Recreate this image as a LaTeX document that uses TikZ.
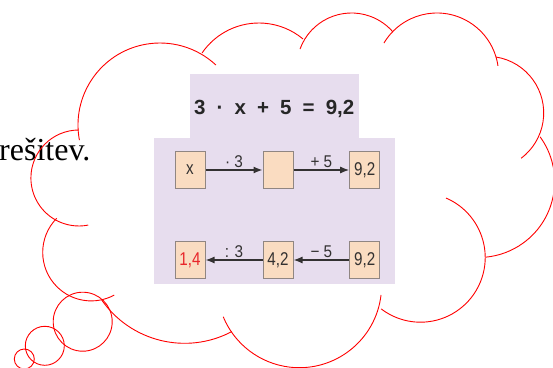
\documentclass[tikz,border=0pt]{standalone}
\usepackage{fontspec}
\setmainfont{Liberation Serif}
\newfontfamily\titlefont[WordSpace=1.95]{Liberation Sans}
\newfontfamily\boxfont[FakeStretch=0.82]{Liberation Sans}
\newfontfamily\labfont[FakeStretch=0.9]{Liberation Sans}
\usetikzlibrary{arrows.meta}

\definecolor{panel}{HTML}{E7DDEE}
\definecolor{boxfill}{HTML}{FADCC1}
\definecolor{boxline}{HTML}{908682}
\definecolor{ink}{HTML}{333131}
\definecolor{solred}{HTML}{E8262A}

\begin{document}
\begin{tikzpicture}[
        x=1pt, y=1pt,
        cloud/.style={
            draw=red,
            line width=0.9pt,
        },
        box/.style={
            rectangle,
            draw=boxline,
            fill=boxfill,
            line width=1pt,
            minimum width=30pt,
            minimum height=36.6pt,
            inner sep=0pt,
            text=ink,
            font=\boxfont\fontsize{18.5}{21}\selectfont,
        },
        op/.style={
            draw=ink,
            line width=1.3pt,
            -{Latex[length=9pt,width=7pt]},
        },
        lab/.style={
            midway,
            above,
            inner sep=1.5pt,
            text=ink,
            font=\labfont\fontsize{17}{19}\selectfont,
        }
    ]
    \useasboundingbox (0,0) rectangle (553,367);

    \node (word) at (-1,206.3) [anchor=base west, inner sep=0pt, font=\fontsize{32}{38}\selectfont] {rešitev.};

    \fill [panel] (190,229) rectangle (359,293);
    \fill [panel] (154,82.7) rectangle (395,229);
    \begin{scope}
        \clip (190,229) rectangle (359,293);
        \node (title) at (194,252) [anchor=base west, inner sep=0pt, text=black!85, font=\titlefont\bfseries\fontsize{20.5}{24}\selectfont] {3 · x + 5 = 9,2\kern5pt:};
    \end{scope}

    \node (x) at (190,197) [box] {x};
    \node (mid) at (278,197) [box] {};
    \node (res) at (364.7,197) [box] {9,2};
    \node (sol) at (190,107) [box, text=solred] {1,4};
    \node (back) at (278,107) [box] {4,2};
    \node (start) at (364.7,107) [box] {9,2};

    \draw [op] (x) -- node [lab] {· 3} (mid);
    \draw [op] (mid) -- node [lab] {+ 5} (res);
    \draw [op] (start) -- node [lab] {− 5} (back);
    \draw [op] (back) -- node [lab] {: 3} (sol);

    % cloud outline
    \draw [cloud] (160,242) ++(190.6:82) arc [start angle=190.6, end angle=47, radius=82];
    \draw [cloud] (258.9,275.1) ++(145.6:68.9) arc [start angle=145.6, end angle=50.2, radius=68.9];
    \draw [cloud] (351.5,299.2) ++(160:54.8) arc [start angle=160, end angle=40.8, radius=54.8];
    \draw [cloud] (436.9,292.3) ++(149.1:61.7) arc [start angle=149.1, end angle=8.2, radius=61.7];
    \draw [cloud] (487,254) ++(80.9:56.7) arc [start angle=80.9, end angle=-52.9, radius=56.7];
    \draw [cloud] (478.6,185.5) ++(35.9:76) arc [start angle=35.9, end angle=-84.4, radius=76];
    \draw [cloud] (420.5,109.5) ++(66.8:64.7) arc [start angle=66.8, end angle=-127.4, radius=64.7];
    \draw [cloud] (299.3,81.6) ++(-6.7:82.3) arc [start angle=-6.7, end angle=-157.6, radius=82.3];
    \draw [cloud] (184.6,124.7) ++(214.8:101) arc [start angle=214.8, end angle=297.8, radius=101];
    \draw [cloud] (91.2,114.6) ++(135.3:48.5) arc [start angle=135.3, end angle=298.3, radius=48.5];
    \draw [cloud] (78.9,189) ++(90:48) arc [start angle=90, end angle=281.2, radius=48];

    % bubbles
    \draw [cloud] (82.7,45.3) circle [radius=29.5];
    \draw [cloud] (44.8,21.2) circle [radius=19.5];
    \draw [cloud] (24.3,8) circle [radius=10];

\end{tikzpicture}
\end{document}
